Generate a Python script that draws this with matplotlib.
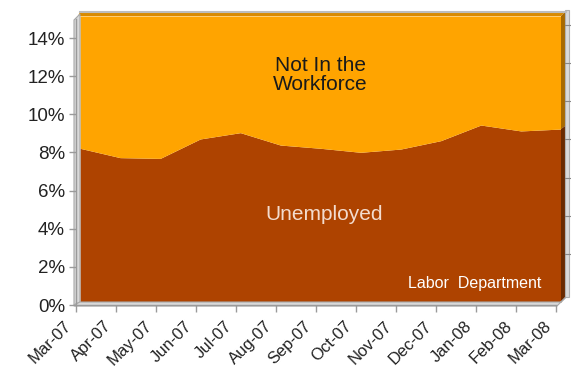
import matplotlib
matplotlib.use("Agg")
import matplotlib.pyplot as plt
from matplotlib.patches import Polygon
from matplotlib.transforms import Affine2D, ScaledTranslation

months = ["Mar-07", "Apr-07", "May-07", "Jun-07", "Jul-07", "Aug-07", "Sep-07",
          "Oct-07", "Nov-07", "Dec-07", "Jan-08", "Feb-08", "Mar-08"]
unemployed = [8.06, 7.57, 7.53, 8.55, 8.88, 8.23, 8.06, 7.85, 8.02, 8.46, 9.28, 8.97, 9.07]
yticks = [0, 2, 4, 6, 8, 10, 12, 14]
ytick_labels = [f"{v}%" for v in yticks]
ytop = 15.0

W, H = 571, 371
plt.rcParams['font.family'] = ['Liberation Sans', 'DejaVu Sans']
fig = plt.figure(figsize=(W / 100, H / 100), dpi=100)
fig.patch.set_facecolor("white")

px = Affine2D().scale(1 / W, -1 / H).translate(0, 1) + fig.transFigure
SC = 19.07  # px per %

def ax_rect(x0, x1, ytopp, ybot):
    return [x0 / W, 1 - ybot / H, (x1 - x0) / W, (ybot - ytopp) / H]

ORANGE = "#FFA400"
BROWN = "#AE4300"

# back plane (data)
ax = fig.add_axes(ax_rect(80, 561, 302 - ytop * SC, 302))
x = list(range(len(months)))
ax.fill_between(x, 0, unemployed, color=BROWN, lw=0)
ax.fill_between(x, unemployed, ytop, color=ORANGE, lw=0)
ax.set_xlim(0, len(months) - 1)
ax.set_ylim(0, ytop)
ax.axis("off")

ax.text(6.0, 11.9, "Not In the\nWorkforce", ha="center", va="center",
        fontsize=15, color="#1A1A1A", linespacing=1.02)
ax.text(6.1, 4.6, "Unemployed", ha="center", va="center",
        fontsize=15, color="#F3DCCF")
ax.text(9.85, 0.95, "Labor  Department", ha="center", va="center",
        fontsize=11.5, color="white")

# 3D decorations
def poly(pts, fc, ec="none", lw=0, z=5):
    fig.add_artist(Polygon(pts, closed=True, transform=px, fc=fc, ec=ec, lw=lw, zorder=z))

ax_y = lambda v: 302 - v * SC
# top face of orange
poly([(76, 20), (80, 12), (565, 12), (561, 16), (80, 16)], "#D98A00")
fig.add_artist(plt.Line2D([80, 566], [11.5, 11.5], transform=px, color="#BDBDBD", lw=1.5, zorder=6))
# right side faces
yr = ax_y(unemployed[-1])
poly([(561, 16), (565, 12), (565, yr - 3), (561, yr)], "#A86A00")
poly([(561, yr), (565, yr - 3), (565, 298), (561, 302)], "#6A2A00")
# right wall strip
poly([(565, 10), (569, 10), (569, 297), (565, 297)], "#DADADA", ec="#B0B0B0", lw=0.8)
for v in yticks[1:]:
    yy = ax_y(v) - 10
    fig.add_artist(plt.Line2D([565, 570], [yy, yy], transform=px, color="#888888", lw=0.8, zorder=7))
# left wall
poly([(74, 20), (80, 14), (80, 302), (74, 305)], "#D9D9D9", ec="#A8A8A8", lw=0.8)
# floor
poly([(74, 305), (80, 302), (561, 302), (566, 297), (557, 306), (74, 306)], "#D9D9D9", ec="#A8A8A8", lw=0.8)

# front plane axis with ticks
fax = fig.add_axes(ax_rect(76, 556, 305 - 15 * SC, 305), facecolor="none")
fax.set_xlim(0, len(months) - 1)
fax.set_ylim(0, 15)
for s in ["top", "right"]:
    fax.spines[s].set_visible(False)
for s in ["left", "bottom"]:
    fax.spines[s].set_color("#9A9A9A")
    fax.spines[s].set_linewidth(1.0)
fax.set_yticks(yticks)
fax.set_yticklabels(ytick_labels, fontsize=13.5, color="#222222")
fax.set_xticks(x)
fax.set_xticklabels(months, fontsize=12, color="#222222", rotation=45,
                    ha="right", va="top", rotation_mode="anchor")
fax.tick_params(axis="both", color="#9A9A9A", length=5, width=1.0)
fax.tick_params(axis="y", pad=3)
fax.tick_params(axis="x", pad=3)
off = ScaledTranslation(-12 / 100, -2 / 100, fig.dpi_scale_trans)
for lab in fax.get_xticklabels():
    lab.set_transform(lab.get_transform() + off)
fax.set_zorder(10)

fig.savefig("out.png", dpi=100, facecolor="white")
